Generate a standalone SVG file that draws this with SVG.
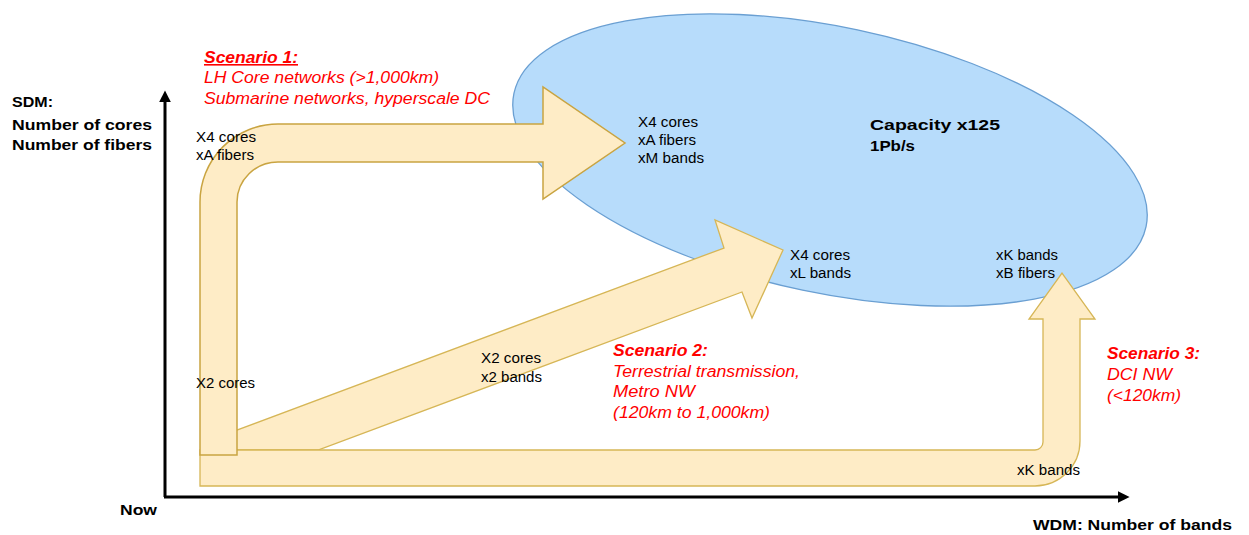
<svg xmlns="http://www.w3.org/2000/svg" width="1249" height="535" viewBox="0 0 1249 535">
<defs>
<style>
text{font-family:"Liberation Sans",Arial,sans-serif}
.lbl{font-size:14px;fill:#000}
.bold{font-size:15px;font-weight:bold;fill:#000}
.red{font-size:16px;font-style:italic;fill:#ff0000}
.redh{font-size:16px;font-style:italic;font-weight:bold;fill:#ff0000}
.band{fill:#feecc6;stroke:#d6b656;stroke-width:1.3}
.band1{fill:#feecc6;stroke:#c9a441;stroke-width:1.5}
.axis{fill:none;stroke:#000;stroke-width:3}
</style>
<marker id="ah" viewBox="0 0 10 10" refX="2" refY="5" markerWidth="4" markerHeight="4" orient="auto" markerUnits="strokeWidth">
<path d="M0,0 L10,5 L0,10 Z" fill="#000"/>
</marker>
</defs>
<rect width="1249" height="535" fill="#fff"/>

<g id="capacity">
<ellipse cx="830" cy="160" rx="323" ry="133" transform="rotate(11.9 830 160)" fill="#b7dcfb" stroke="#6a9fd2" stroke-width="1.3"/>
<text class="bold" x="870" y="130" textLength="130" lengthAdjust="spacingAndGlyphs">Capacity x125</text>
<text class="bold" x="870" y="151" textLength="45" lengthAdjust="spacingAndGlyphs">1Pb/s</text>
</g>

<g id="connectors">
<g id="axes">
<line class="axis" x1="165" y1="497" x2="165" y2="100" marker-end="url(#ah)"/>
<line class="axis" x1="164" y1="497" x2="1120" y2="497" marker-end="url(#ah)"/>
</g>
<g id="scenario2-arrow">
<path class="band" d="M220 436.4 L724 248 L715 220 L783 250 L752 318 L742 292 L318 450 L220 450 Z"/>
</g>
<g id="scenario3-arrow">
<path class="band" d="M200 450 L1035 450 A8 8 0 0 0 1043 442 L1043 319 L1029 319 L1062 273 L1095 319 L1080 319 L1080 441 A45 45 0 0 1 1035 486 L200 486 Z"/>
</g>
<g id="scenario1-arrow">
<path class="band1" d="M200 455 L200 202 A78 78 0 0 1 278 124 L543 124 L543 87 L625 143 L543 199 L543 162 L278 162 A41 40 0 0 0 237 202 L237 455 Z"/>
</g>
</g>

<g id="axis-labels">
<text class="bold" x="12" y="107" textLength="41" lengthAdjust="spacingAndGlyphs">SDM:</text>
<text class="bold" x="12" y="130" textLength="140" lengthAdjust="spacingAndGlyphs">Number of cores</text>
<text class="bold" x="12" y="150" textLength="140" lengthAdjust="spacingAndGlyphs">Number of fibers</text>
<text class="bold" x="120" y="515" textLength="37" lengthAdjust="spacingAndGlyphs">Now</text>
<text class="bold" x="1033" y="530" textLength="199" lengthAdjust="spacingAndGlyphs">WDM: Number of bands</text>
</g>

<g id="scenario1">
<text class="redh" x="204" y="63" textLength="94" lengthAdjust="spacingAndGlyphs" text-decoration="underline">Scenario 1:</text>
<text class="red" x="204" y="83" textLength="235" lengthAdjust="spacingAndGlyphs">LH Core networks (&gt;1,000km)</text>
<text class="red" x="204" y="104" textLength="286" lengthAdjust="spacingAndGlyphs">Submarine networks, hyperscale DC</text>
</g>

<g id="scenario2">
<text class="redh" x="613" y="356" textLength="95" lengthAdjust="spacingAndGlyphs">Scenario 2:</text>
<text class="red" x="613" y="377" textLength="187" lengthAdjust="spacingAndGlyphs">Terrestrial transmission,</text>
<text class="red" x="613" y="397" textLength="82" lengthAdjust="spacingAndGlyphs">Metro NW</text>
<text class="red" x="613" y="418" textLength="157" lengthAdjust="spacingAndGlyphs">(120km to 1,000km)</text>
</g>

<g id="scenario3">
<text class="redh" x="1107" y="359" textLength="93" lengthAdjust="spacingAndGlyphs">Scenario 3:</text>
<text class="red" x="1107" y="380" textLength="65" lengthAdjust="spacingAndGlyphs">DCI NW</text>
<text class="red" x="1107" y="401" textLength="74" lengthAdjust="spacingAndGlyphs">(&lt;120km)</text>
</g>

<g id="node-start">
<text class="lbl" x="196" y="142" textLength="60" lengthAdjust="spacingAndGlyphs">X4 cores</text>
<text class="lbl" x="196" y="160" textLength="58" lengthAdjust="spacingAndGlyphs">xA fibers</text>
<text class="lbl" x="196" y="388" textLength="59" lengthAdjust="spacingAndGlyphs">X2 cores</text>
</g>

<g id="node-mid">
<text class="lbl" x="481" y="363" textLength="60" lengthAdjust="spacingAndGlyphs">X2 cores</text>
<text class="lbl" x="481" y="382" textLength="61" lengthAdjust="spacingAndGlyphs">x2 bands</text>
</g>

<g id="node-s1-end">
<text class="lbl" x="638" y="127" textLength="60" lengthAdjust="spacingAndGlyphs">X4 cores</text>
<text class="lbl" x="638" y="145" textLength="58" lengthAdjust="spacingAndGlyphs">xA fibers</text>
<text class="lbl" x="638" y="163" textLength="66" lengthAdjust="spacingAndGlyphs">xM bands</text>
</g>

<g id="node-s2-end">
<text class="lbl" x="790" y="260" textLength="60" lengthAdjust="spacingAndGlyphs">X4 cores</text>
<text class="lbl" x="790" y="278" textLength="61" lengthAdjust="spacingAndGlyphs">xL bands</text>
</g>

<g id="node-s3-end">
<text class="lbl" x="996" y="260" textLength="62" lengthAdjust="spacingAndGlyphs">xK bands</text>
<text class="lbl" x="996" y="278" textLength="59" lengthAdjust="spacingAndGlyphs">xB fibers</text>
</g>

<g id="node-s3-corner">
<text class="lbl" x="1017" y="475" textLength="63" lengthAdjust="spacingAndGlyphs">xK bands</text>
</g>
</svg>
